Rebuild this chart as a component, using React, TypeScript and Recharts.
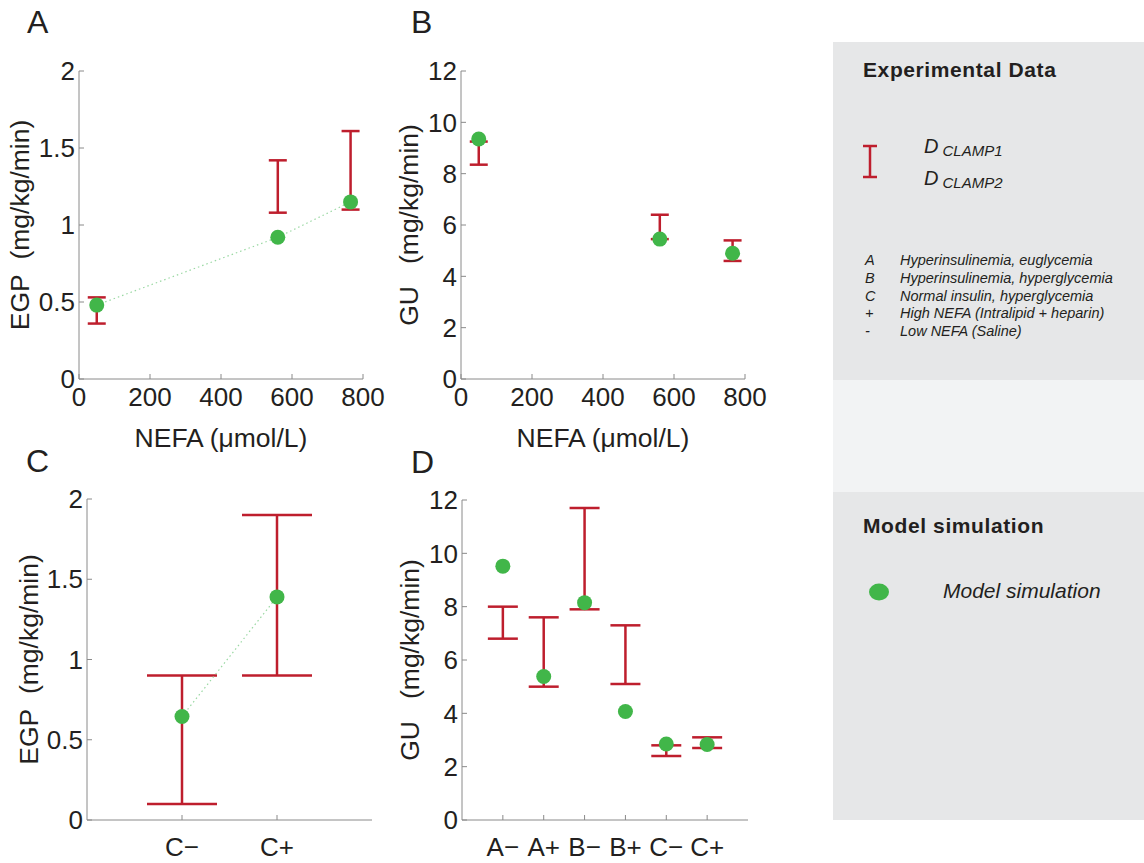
import React from "react";
import { ComposedChart, Scatter, XAxis, YAxis, ErrorBar, Label } from "recharts";

const RED = "#be1e2d";
const GREEN = "#41b649";
const BOX = "#8a8a8a";
const INK = "#231f20";
const FONT = '"Liberation Sans", Arial, Helvetica, sans-serif';

// panels A and B: clamp data against plasma NEFA
const nefa = [50, 560, 765];
const egpModel = [0.48, 0.92, 1.15];
const egpLow = [0.36, 1.08, 1.1];
const egpHigh = [0.53, 1.42, 1.61];
const guModel = [9.35, 5.45, 4.9];
const guLow = [8.35, 5.45, 4.6];
const guHigh = [9.25, 6.4, 5.4];

// panel C
const cGroups = ["C−", "C+"];
const cModel = [0.645, 1.39];
const cLow = [0.1, 0.9];
const cHigh = [0.9, 1.9];

// panel D
const dGroups = ["A−", "A+", "B−", "B+", "C−", "C+"];
const dModel = [9.52, 5.38, 8.15, 4.07, 2.85, 2.83];
const dLow = [6.8, 5.0, 7.9, 5.1, 2.4, 2.7];
const dHigh = [8.0, 7.6, 11.7, 7.3, 2.8, 3.1];

const nefaTicks = [0, 200, 400, 600, 800];
const egpTicks = [0, 0.5, 1, 1.5, 2];
const guTicks = [0, 2, 4, 6, 8, 10, 12];

const tickStyle = { fontSize: 26, fill: INK };

type PanelProps = {
  left: number;
  top: number;
  w: number;
  h: number;
  mt: number;
  mr: number;
  yW: number;
  xH: number;
  xs: number[];
  model: number[];
  lows: number[];
  highs: number[];
  xDomain: [number, number];
  xTicks: number[];
  xFmt?: (v: number) => string;
  xTickMargin: number;
  yDomain: [number, number];
  yTicks: number[];
  yLabel: string;
  yLabelDx: number;
  xLabel?: string;
  xLabelDy?: number;
  cap: number;
  dotted?: boolean;
  dotsOnTop?: boolean;
};

function Panel(p: PanelProps) {
  const modelData = p.xs.map((x, i) => ({ x, y: p.model[i] }));
  const expData = p.xs.map((x, i) => ({ x, lo: p.lows[i], hi: p.highs[i] }));

  const bars = (
    <Scatter key="exp" data={expData} dataKey="lo" shape={() => <g />} isAnimationActive={false}>
      <ErrorBar
        dataKey={(d: any) => [0, d.hi - d.lo]}
        direction="y"
        width={p.cap}
        stroke={RED}
        strokeWidth={2.5}
        isAnimationActive={false}
      />
    </Scatter>
  );
  const dots = (
    <Scatter
      key="model"
      data={modelData}
      dataKey="y"
      isAnimationActive={false}
      line={p.dotted ? { stroke: "#9ad8a3", strokeWidth: 1.2, strokeDasharray: "1.5 3" } : false}
      shape={(s: any) => <circle cx={s.cx} cy={s.cy} r={7.5} fill={GREEN} />}
    />
  );

  return (
    <div style={{ position: "absolute", left: p.left, top: p.top }}>
      <ComposedChart width={p.w} height={p.h} margin={{ top: p.mt, right: p.mr, bottom: 0, left: 0 }}>
        <XAxis
          dataKey="x"
          type="number"
          domain={p.xDomain}
          ticks={p.xTicks}
          interval={0}
          tickFormatter={p.xFmt}
          tickSize={-5}
          tickMargin={p.xTickMargin}
          height={p.xH}
          axisLine={{ stroke: BOX }}
          tickLine={{ stroke: BOX }}
          tick={tickStyle}
        >
          {p.xLabel && <Label value={p.xLabel} position="center" dy={p.xLabelDy} fontSize={26.5} fill={INK} />}
        </XAxis>
        <XAxis
          xAxisId="top"
          orientation="top"
          type="number"
          domain={p.xDomain}
          ticks={p.xTicks}
          interval={0}
          tick={false}
          tickSize={-5}
          height={0}
          axisLine={{ stroke: BOX }}
          tickLine={{ stroke: BOX }}
        />
        <YAxis
          type="number"
          domain={p.yDomain}
          ticks={p.yTicks}
          interval={0}
          tickSize={-5}
          tickMargin={9}
          width={p.yW}
          axisLine={{ stroke: BOX }}
          tickLine={{ stroke: BOX }}
          tick={tickStyle}
        >
          <Label value={p.yLabel} angle={-90} position="center" dx={p.yLabelDx} fontSize={26.5} fill={INK} />
        </YAxis>
        <YAxis
          yAxisId="right"
          orientation="right"
          type="number"
          domain={p.yDomain}
          ticks={p.yTicks}
          interval={0}
          tick={false}
          tickSize={-5}
          width={0}
          axisLine={{ stroke: BOX }}
          tickLine={{ stroke: BOX }}
        />
        {p.dotsOnTop ? [bars, dots] : [dots, bars]}
      </ComposedChart>
    </div>
  );
}

const idx = (arr: string[]) => arr.map((_, i) => i + 1);

function Legend() {
  const listRows = [
    ["A", "Hyperinsulinemia, euglycemia"],
    ["B", "Hyperinsulinemia, hyperglycemia"],
    ["C", "Normal insulin, hyperglycemia"],
    ["+", "High NEFA (Intralipid + heparin)"],
    ["-", "Low NEFA (Saline)"],
  ];
  return (
    <svg width={1144} height={863} style={{ position: "absolute", left: 0, top: 0 }}>
      <text x={27} y={33} fontSize={32} fill={INK}>A</text>
      <text x={411} y={33} fontSize={32} fill={INK}>B</text>
      <text x={26} y={472} fontSize={32} fill={INK}>C</text>
      <text x={411} y={473} fontSize={32} fill={INK}>D</text>

      <rect x={833} y={42} width={311} height={338} fill="#e6e7e8" />
      <rect x={833} y={380} width={311} height={112} fill="#f2f3f4" />
      <rect x={833} y={492} width={311} height={328} fill="#e6e7e8" />

      <text x={863} y={77} fontSize={21} fontWeight="bold" fill={INK} letterSpacing={0.6}>Experimental Data</text>
      <g stroke={RED} strokeWidth={2.5}>
        <line x1={870} y1={146} x2={870} y2={177} />
        <line x1={863} y1={146} x2={877} y2={146} />
        <line x1={863} y1={177} x2={877} y2={177} />
      </g>
      <text x={924} y={153} fontSize={20} fontStyle="italic" fill={INK}>
        D<tspan dx={4} dy={3} fontSize={15}>CLAMP1</tspan>
      </text>
      <text x={924} y={185} fontSize={20} fontStyle="italic" fill={INK}>
        D<tspan dx={4} dy={3} fontSize={15}>CLAMP2</tspan>
      </text>
      {listRows.map(([k, v], i) => (
        <g key={k} fontSize={14.5} fontStyle="italic" fill={INK}>
          <text x={865} y={265 + i * 17.8}>{k}</text>
          <text x={900} y={265 + i * 17.8}>{v}</text>
        </g>
      ))}

      <text x={863} y={533} fontSize={21} fontWeight="bold" fill={INK} letterSpacing={0.6}>Model simulation</text>
      <ellipse cx={879} cy={592} rx={10} ry={8.5} fill={GREEN} />
      <text x={943} y={598} fontSize={21} fontStyle="italic" fill={INK}>Model simulation</text>
    </svg>
  );
}

export default function App() {
  return (
    <div style={{ position: "absolute", left: 0, top: 0, width: 1144, height: 863, background: "#fff", fontFamily: FONT }}>
      <Legend />
      <Panel
        left={0} top={0} w={400} h={470} mt={71} mr={37} yW={79} xH={91}
        xs={nefa} model={egpModel} lows={egpLow} highs={egpHigh}
        xDomain={[0, 800]} xTicks={nefaTicks} xTickMargin={14}
        yDomain={[0, 2]} yTicks={egpTicks}
        yLabel={"EGP\u00a0 (mg/kg/min)"} yLabelDx={-19.5}
        xLabel="NEFA (μmol/L)" xLabelDy={13.5} cap={9} dotted
      />
      <Panel
        left={380} top={0} w={420} h={470} mt={71} mr={55} yW={81} xH={91}
        xs={nefa} model={guModel} lows={guLow} highs={guHigh}
        xDomain={[0, 800]} xTicks={nefaTicks} xTickMargin={14}
        yDomain={[0, 12]} yTicks={guTicks}
        yLabel={"GU\u00a0\u00a0 (mg/kg/min)"} yLabelDx={-11.5}
        xLabel="NEFA (μmol/L)" xLabelDy={13.5} cap={9}
      />
      <Panel
        left={0} top={450} w={400} h={413} mt={49} mr={28} yW={87} xH={43}
        xs={idx(cGroups)} model={cModel} lows={cLow} highs={cHigh}
        xDomain={[0, 3]} xTicks={idx(cGroups)} xFmt={(v) => cGroups[v - 1]} xTickMargin={23}
        yDomain={[0, 2]} yTicks={egpTicks}
        yLabel={"EGP\u00a0 (mg/kg/min)"} yLabelDx={-15}
        cap={35} dotted dotsOnTop
      />
      <Panel
        left={380} top={450} w={420} h={413} mt={50} mr={52} yW={82} xH={43}
        xs={idx(dGroups)} model={dModel} lows={dLow} highs={dHigh}
        xDomain={[0, 7]} xTicks={idx(dGroups)} xFmt={(v) => dGroups[v - 1]} xTickMargin={23}
        yDomain={[0, 12]} yTicks={guTicks}
        yLabel={"GU\u00a0\u00a0 (mg/kg/min)"} yLabelDx={-11}
        cap={15}
      />
    </div>
  );
}
